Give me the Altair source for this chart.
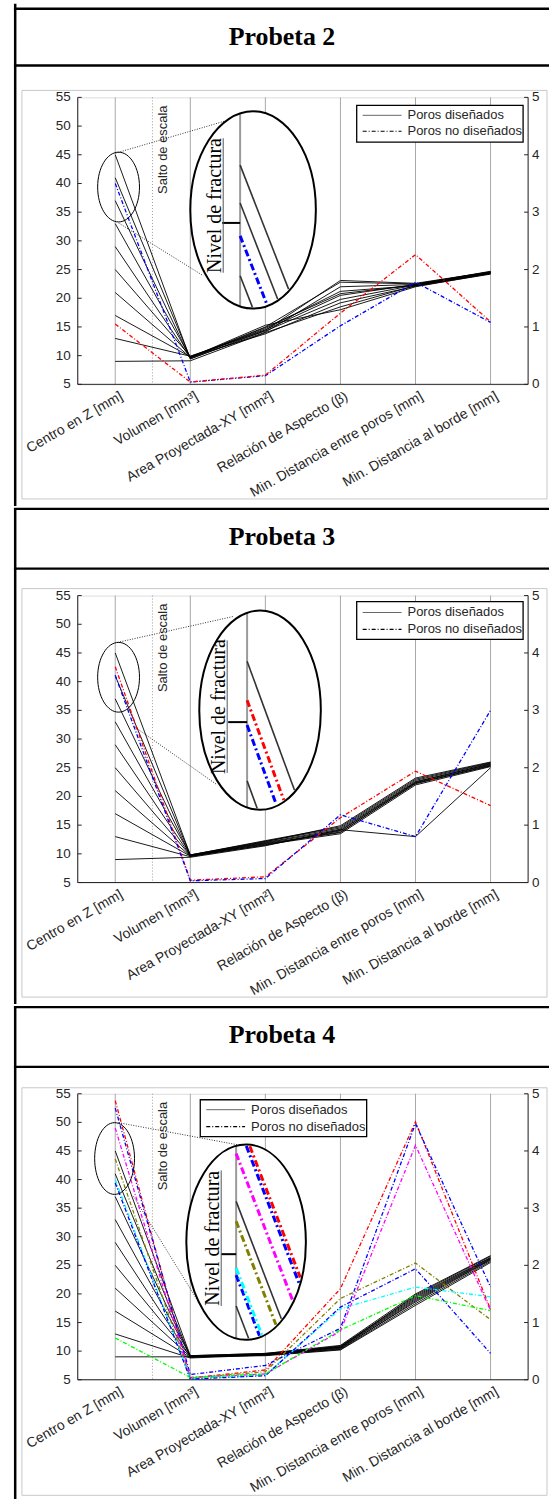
import math
import altair as alt
import pandas as pd

# ---------------------------------------------------------------- data
AXES = ["Centro en Z [mm]", "Volumen [mm³]", "Area Proyectada-XY [mm²]",
        "Relación de Aspecto (β)", "Min. Distancia entre poros [mm]",
        "Min. Distancia al borde [mm]"]
LEFT_TICKS = [5, 10, 15, 20, 25, 30, 35, 40, 45, 50, 55]
RIGHT_TICKS = [0, 1, 2, 3, 4, 5]

# designed pores: Centro en Z in mm (left axis), others in right-axis units
CENTRO_DIS = [9, 13, 17, 21, 25, 29, 33, 37, 41, 45]

P2_VOL = [0.41, 0.49, 0.48, 0.47, 0.49, 0.46, 0.47, 0.45, 0.46, 0.44]
P2_AREA = [0.90, 0.95, 0.88, 1.00, 0.93, 0.97, 1.03, 0.91, 0.99, 0.94]
P2_REL = [1.35, 1.55, 1.42, 1.78, 1.48, 1.62, 1.30, 1.70, 1.58, 1.81]
P2_POR = [1.72, 1.74, 1.71, 1.75, 1.73, 1.72, 1.70, 1.74, 1.73, 1.76]
P2_BOR = [1.93, 1.95, 1.92, 1.96, 1.94, 1.95, 1.93, 1.97, 1.94, 1.96]
P2_ND_COLOR = ["#0000ff", "#ff0000"]
P2_ND_CENTRO = [40.0, 15.5]
P2_ND_VOL = [0.04, 0.04]
P2_ND_AREA = [0.15, 0.16]
P2_ND_REL = [1.02, 1.24]
P2_ND_POR = [1.78, 2.26]
P2_ND_BOR = [1.08, 1.09]

P3_VOL = [0.44, 0.45, 0.46, 0.46, 0.47, 0.47, 0.48, 0.47, 0.48, 0.48]
P3_AREA = [0.64, 0.66, 0.68, 0.65, 0.70, 0.67, 0.72, 0.69, 0.73, 0.71]
P3_REL = [0.92, 0.85, 0.88, 0.90, 0.93, 0.87, 0.95, 0.91, 0.97, 0.99]
P3_POR = [0.80, 1.70, 1.72, 1.74, 1.76, 1.73, 1.78, 1.75, 1.80, 1.82]
P3_BOR = [2.00, 2.02, 2.04, 2.05, 2.06, 2.03, 2.08, 2.07, 2.09, 2.10]
P3_ND_COLOR = ["#ff0000", "#0000ff"]
P3_ND_CENTRO = [42.6, 41.1]
P3_ND_VOL = [0.04, 0.03]
P3_ND_AREA = [0.10, 0.07]
P3_ND_REL = [1.13, 1.18]
P3_ND_POR = [1.94, 0.80]
P3_ND_BOR = [1.34, 3.00]

P4_VOL = [0.40, 0.38, 0.39, 0.40, 0.41, 0.40, 0.42, 0.41, 0.40, 0.42]
P4_AREA = [0.42, 0.43, 0.44, 0.43, 0.45, 0.44, 0.46, 0.45, 0.44, 0.46]
P4_REL = [0.52, 0.53, 0.55, 0.54, 0.56, 0.57, 0.58, 0.59, 0.57, 0.60]
P4_POR = [1.30, 1.33, 1.36, 1.38, 1.40, 1.42, 1.44, 1.46, 1.48, 1.50]
P4_BOR = [2.05, 2.07, 2.09, 2.10, 2.11, 2.12, 2.13, 2.14, 2.16, 2.17]
P4_ND_COLOR = ["#ff0000", "#0000ff", "#ff00ff", "#808000", "#00ffff", "#0000ff", "#00ff00"]
P4_ND_CENTRO = [53.8, 52.5, 49.0, 43.6, 40.0, 39.4, 12.3]
P4_ND_VOL = [0.03, 0.09, 0.04, 0.03, 0.02, 0.01, 0.04]
P4_ND_AREA = [0.17, 0.25, 0.10, 0.14, 0.08, 0.07, 0.10]
P4_ND_REL = [1.59, 0.90, 0.85, 1.42, 1.24, 1.27, 0.87]
P4_ND_POR = [4.51, 4.48, 4.10, 2.04, 1.62, 1.94, 1.47]
P4_ND_BOR = [1.23, 1.62, 1.21, 1.05, 1.45, 0.46, 1.21]

# ---------------------------------------------------------------- helpers
W = 452
X0 = 77
XS = alt.Scale(domain=[-0.5, 5.5], nice=False, zero=False)
YS = alt.Scale(domain=[0, 5], nice=False, zero=False)
FONT = "Liberation Sans"
AX_COL = "#262626"


def lines_df(centro, cols, colors=None):
    rows = []
    for i in range(len(centro)):
        vals = [(centro[i] - 5) / 10] + [c[i] for c in cols]
        for k, v in enumerate(vals):
            rows.append(dict(id=i, axis=k, v=v, color=colors[i] if colors else "black"))
    return pd.DataFrame(rows)


class Geo:
    def __init__(self, top, h):
        self.top, self.h = top, h

    def x(self, px):
        return (px - X0) / W * 6 - 0.5

    def y(self, py):
        return (self.top + self.h - py) / self.h * 5

    def dx(self, d):
        return d / W * 6

    def dy(self, d):
        return d / self.h * 5


def seg_df(g, segs):
    return pd.DataFrame([dict(x=g.x(a), y=g.y(b), x2=g.x(c), y2=g.y(d)) for a, b, c, d in segs])


def rule_layer(df, **mark):
    return alt.Chart(df).mark_rule(**mark).encode(
        x=alt.X("x:Q", scale=XS, axis=None), y=alt.Y("y:Q", scale=YS, axis=None),
        x2="x2:Q", y2="y2:Q")


def seg_layer(g, segs, **mark):
    return rule_layer(seg_df(g, segs), **mark)


def rect_layer(g, rects, **mark):
    return alt.Chart(seg_df(g, rects)).mark_rect(**mark).encode(
        x=alt.X("x:Q", scale=XS, axis=None), y=alt.Y("y:Q", scale=YS, axis=None),
        x2="x2:Q", y2="y2:Q")


def text_df_layer(df, **mark):
    return alt.Chart(df).mark_text(**mark).encode(
        x=alt.X("x:Q", scale=XS, axis=None), y=alt.Y("y:Q", scale=YS, axis=None), text="t:N")


def text_layer(g, items, **mark):
    df = pd.DataFrame([dict(x=g.x(a), y=g.y(b), t=t) for a, b, t in items])
    return text_df_layer(df, **mark)


def ellipse_layer(g, cx, cy, rx, ry, **mark):
    a = rx / ry
    k = 0.5523
    path = (f"M {a:.4f} 0 C {a:.4f} {k} {a*k:.4f} 1 0 1 C {-a*k:.4f} 1 {-a:.4f} {k} {-a:.4f} 0 "
            f"C {-a:.4f} {-k} {-a*k:.4f} -1 0 -1 C {a*k:.4f} -1 {a:.4f} {-k} {a:.4f} 0 Z")
    df = pd.DataFrame([dict(x=g.x(cx), y=g.y(cy))])
    return alt.Chart(df).mark_point(shape=path, size=(2 * ry) ** 2, opacity=1, **mark).encode(
        x=alt.X("x:Q", scale=XS, axis=None), y=alt.Y("y:Q", scale=YS, axis=None))


def clip(cx, cy, rx, ry, ax, y0, s):
    dx0, dy0 = ax - cx, y0 - cy
    a = 1 / rx ** 2 + s * s / ry ** 2
    b = 2 * (dx0 / rx ** 2 + s * dy0 / ry ** 2)
    c = dx0 ** 2 / rx ** 2 + dy0 ** 2 / ry ** 2 - 1
    d = b * b - 4 * a * c
    if d <= 0:
        return None
    t1 = (-b - math.sqrt(d)) / (2 * a)
    t2 = (-b + math.sqrt(d)) / (2 * a)
    t1 = max(t1, 0)
    if t2 <= t1:
        return None
    return (ax + t1, y0 + s * t1, ax + t2, y0 + s * t2)


def panel(title, top, h, cell, line_top, title_bottom, title_y, gray, centro_d, cols_d,
          nd_colors, nd_centro, nd_cols, inset, legend):
    g = Geo(top, h)
    layers = []
    # invisible anchor covering the table cell
    layers.append(rect_layer(g, [(0, cell[0], 550, cell[1])], opacity=0))
    # gray figure box
    layers.append(rect_layer(g, [gray], filled=False, stroke="#c8c8c8", strokeWidth=1))
    # table frame
    layers.append(rect_layer(g, [(13, cell[0], 15.5, cell[1]),
                                 (13, line_top - 1.2, 550, line_top + 1.2),
                                 (13, title_bottom - 1.2, 550, title_bottom + 1.2)],
                             color="black"))
    layers.append(text_layer(g, [(282, title_y, title)], font="Liberation Serif",
                             fontWeight="bold", fontSize=26, align="center",
                             baseline="middle", color="black"))

    # parallel axes (grid lines at each variable)
    grid = pd.DataFrame(dict(x=[float(i) for i in range(6)], y=0.0, y2=5.0))
    layers.append(alt.Chart(grid).mark_rule(color="#a8a8a8", strokeWidth=1).encode(
        x=alt.X("x:Q", scale=XS, axis=None), y=alt.Y("y:Q", scale=YS, axis=None), y2="y2:Q"))

    # box: left / right / bottom axis lines with inward ticks
    tl = g.dx(4)
    left = pd.DataFrame(dict(y=[(v - 5) / 10 for v in LEFT_TICKS], x=-0.5, x2=-0.5 + tl))
    right = pd.DataFrame(dict(y=[float(v) for v in RIGHT_TICKS], x=5.5 - tl, x2=5.5))
    frame = pd.DataFrame(dict(x=[-0.5, 5.5, -0.5], x2=[-0.5, 5.5, 5.5],
                              y=[0.0, 0.0, 0.0], y2=[5.0, 5.0, 0.0]))
    layers.append(rule_layer(frame, color=AX_COL, strokeWidth=1))
    layers.append(rule_layer(left, color=AX_COL, strokeWidth=1))
    layers.append(rule_layer(right, color=AX_COL, strokeWidth=1))
    lab_l = pd.DataFrame(dict(y=[(v - 5) / 10 for v in LEFT_TICKS], x=-0.5 - g.dx(7),
                              t=[str(v) for v in LEFT_TICKS]))
    lab_r = pd.DataFrame(dict(y=[float(v) for v in RIGHT_TICKS], x=5.5 + g.dx(4),
                              t=[str(v) for v in RIGHT_TICKS]))
    layers.append(text_df_layer(lab_l, font=FONT, fontSize=13.5, align="right",
                                baseline="middle", color=AX_COL))
    layers.append(text_df_layer(lab_r, font=FONT, fontSize=13.5, align="left",
                                baseline="middle", color=AX_COL))
    lab_x = pd.DataFrame(dict(x=[i + g.dx(3) for i in range(6)], y=-g.dy(5), t=AXES))
    layers.append(text_df_layer(lab_x, font=FONT, fontSize=14, align="right",
                                baseline="top", angle=330, color=AX_COL))

    # scale break
    layers.append(seg_layer(g, [(152, top, 152, top + h)], color="#9a9a9a",
                            strokeWidth=1, strokeDash=[1, 2]))
    layers.append(text_layer(g, [(163, top + 52.5, "Salto de escala")], font=FONT,
                             fontSize=13, angle=270, align="center", baseline="middle",
                             color=AX_COL))

    # data lines
    dd = lines_df(centro_d, cols_d)
    layers.append(alt.Chart(dd).mark_line(strokeWidth=0.9, color="black").encode(
        x=alt.X("axis:Q", scale=XS, axis=None), y=alt.Y("v:Q", scale=YS, axis=None),
        detail="id:N", order="axis:Q"))
    nd = lines_df(nd_centro, nd_cols, nd_colors)
    layers.append(alt.Chart(nd).mark_line(strokeWidth=1.3, strokeDash=[4, 2, 1, 2]).encode(
        x=alt.X("axis:Q", scale=XS, axis=None), y=alt.Y("v:Q", scale=YS, axis=None),
        color=alt.Color("color:N", scale=None), detail="id:N", order="axis:Q"))

    # magnifier
    sc, bc = inset["small"], inset["big"]
    layers.append(ellipse_layer(g, *sc, filled=False, stroke="black", strokeWidth=1))
    layers.append(seg_layer(g, inset["conn"], color="black", strokeWidth=0.8,
                            strokeDash=[1, 1.5]))
    layers.append(ellipse_layer(g, *bc, filled=True, fill="white", strokeWidth=0))
    cx, cy, rx, ry = bc
    ax = inset["ax"]
    hh = ry * math.sqrt(max(0.0, 1 - ((ax - cx) / rx) ** 2))
    layers.append(seg_layer(g, [(ax, cy - hh, ax, cy + hh)], color="#9a9a9a", strokeWidth=2))
    solid, dashed = [], {}
    for y0, col in inset["lines"]:
        s = clip(cx, cy, rx - 1.5, ry - 1.5, ax, y0, inset["slope"])
        if s is None:
            continue
        if col == "black":
            solid.append(s)
        else:
            dashed.setdefault(col, []).append(s)
    if solid:
        layers.append(seg_layer(g, solid, color="#333333", strokeWidth=1.6))
    for col, segs in dashed.items():
        layers.append(seg_layer(g, segs, color=col, strokeWidth=3, strokeDash=[7, 3, 2, 3]))
    fy = inset["frac_y"]
    layers.append(seg_layer(g, [(inset["tick_x"], fy, ax, fy)], color="black", strokeWidth=2))
    ux, uy0, uy1 = inset["under"]
    layers.append(seg_layer(g, [(ux, uy0, ux, uy1)], color="#555555", strokeWidth=1))
    layers.append(text_layer(g, [(ux - 2, (uy0 + uy1) / 2, "Nivel de fractura")],
                             font="Liberation Serif", fontSize=20, angle=270,
                             align="center", baseline="alphabetic", color="black"))
    layers.append(ellipse_layer(g, *bc, filled=False, stroke="black", strokeWidth=2))

    # legend
    lx0, ly0, lx1, ly1, r1, r2 = legend
    layers.append(rect_layer(g, [(lx0, ly0, lx1, ly1)], fill="white", stroke="black",
                             strokeWidth=1.3))
    layers.append(seg_layer(g, [(lx0 + 6, r1, lx0 + 45, r1)], color="#666666", strokeWidth=1))
    layers.append(seg_layer(g, [(lx0 + 6, r2, lx0 + 45, r2)], color="black", strokeWidth=1.2,
                            strokeDash=[4, 2, 1, 2]))
    layers.append(text_layer(g, [(lx0 + 51, r1, "Poros diseñados"),
                                 (lx0 + 51, r2, "Poros no diseñados")],
                             font=FONT, fontSize=13, align="left", baseline="middle",
                             color=AX_COL))

    return alt.layer(*layers).properties(width=W, height=h)


p2 = panel("Probeta 2", 94, 288, (0, 504), 5, 62, 33, (21, 87, 548, 497),
           CENTRO_DIS, [P2_VOL, P2_AREA, P2_REL, P2_POR, P2_BOR],
           P2_ND_COLOR, P2_ND_CENTRO, [P2_ND_VOL, P2_ND_AREA, P2_ND_REL, P2_ND_POR, P2_ND_BOR],
           dict(small=(118, 184, 21, 35), big=(253, 207, 63, 99), ax=240, slope=2.56,
                lines=[(162, "black"), (200, "black"), (233, "#0000ff"), (273, "black")],
                frac_y=220, tick_x=222, under=(223, 135, 270),
                conn=[(115, 150, 224, 118), (118, 220, 203, 273)]),
           (357, 102, 524, 139, 112, 128))

p3 = panel("Probeta 3", 592, 288, (504, 1002), 505, 565, 533, (21, 585, 548, 995),
           CENTRO_DIS, [P3_VOL, P3_AREA, P3_REL, P3_POR, P3_BOR],
           P3_ND_COLOR, P3_ND_CENTRO, [P3_ND_VOL, P3_ND_AREA, P3_ND_REL, P3_ND_POR, P3_ND_BOR],
           dict(small=(118, 674, 21, 35), big=(260, 707, 61, 100), ax=247, slope=2.72,
                lines=[(658, "black"), (697, "#ff0000"), (722, "#0000ff"), (778, "black")],
                frac_y=719, tick_x=228, under=(227, 637, 770),
                conn=[(117, 639, 233, 613), (133, 723, 217, 782)]),
           (357, 598, 524, 636, 609, 626))

p4 = panel("Probeta 4", 1090, 287, (1002, 1499), 1003, 1063, 1031, (21, 1084, 548, 1493),
           CENTRO_DIS, [P4_VOL, P4_AREA, P4_REL, P4_POR, P4_BOR],
           P4_ND_COLOR, P4_ND_CENTRO, [P4_ND_VOL, P4_ND_AREA, P4_ND_REL, P4_ND_POR, P4_ND_BOR],
           dict(small=(114, 1155, 20, 36), big=(246, 1239, 60, 98), ax=236, slope=2.6,
                lines=[(1107, "#ff0000"), (1116, "#0000ff"), (1150, "#ff00ff"),
                       (1198, "black"), (1218, "#808000"), (1265, "#00ffff"),
                       (1272, "#0000ff"), (1303, "black")],
                frac_y=1251, tick_x=221, under=(221, 1167, 1303),
                conn=[(118, 1119, 247, 1143), (133, 1193, 197, 1297)]),
           (200, 1096, 367, 1133, 1106, 1123))

chart = alt.vconcat(p2, p3, p4, spacing=0).properties(padding=0).configure_view(
    stroke=None).configure(background="white")

chart.save("out.html", embed_options={"renderer": "svg", "actions": False})
